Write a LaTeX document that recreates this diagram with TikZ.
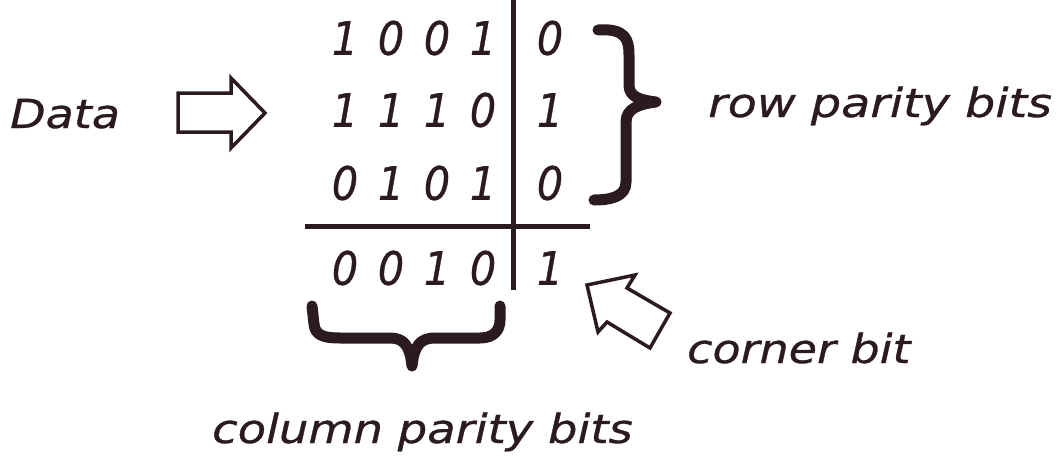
\documentclass[tikz,border=0pt]{standalone}
\usepackage{fontspec}
\setmainfont{DejaVu Sans}
\newfontfamily\inkfont{DejaVu Sans}[FakeBold=0.7]
\definecolor{ink}{HTML}{2B1B20}
\tikzset{
  digit/.style={text=ink, inner sep=0pt, font=\inkfont\fontsize{46}{46}\selectfont\itshape},
  lbl/.style={text=ink, inner sep=0pt, anchor=base west, font=\inkfont\fontsize{40}{40}\selectfont\itshape},
  brace/.style={draw=ink, line width=11pt, line cap=round, line join=round},
  rule/.style={draw=ink, line width=5pt},
  hollow/.style={draw=ink, fill=white, line width=3.5pt, line join=miter}
}
\begin{document}
\begin{tikzpicture}[x=1pt,y=-1pt]
\useasboundingbox (0,0) rectangle (1062,458);
% grid lines
\coordinate (vt) at (513,0);
\coordinate (vb) at (513,290);
\coordinate (hl) at (305,226);
\coordinate (hr) at (590,226);
\draw[rule] (vt) -- (vb);
\draw[rule] (hl) -- (hr);
% digits
\foreach \r/\y/\a/\b/\c/\d/\p in {1/38/1/0/0/1/0, 2/110/1/1/1/0/1, 3/183/0/1/0/1/0, 4/268/0/0/1/0/1}{
  \node[digit] (d\r a) at (345,\y) {\scalebox{0.9}[1]{\a}};
  \node[digit] (d\r b) at (391,\y) {\scalebox{0.9}[1]{\b}};
  \node[digit] (d\r c) at (437,\y) {\scalebox{0.9}[1]{\c}};
  \node[digit] (d\r d) at (483,\y) {\scalebox{0.9}[1]{\d}};
  \node[digit] (d\r p) at (550,\y) {\scalebox{0.9}[1]{\p}};
}
% labels
\node[lbl] (data) at (10,128) {\scalebox{1.15}[1]{Data}};
\node[lbl] (rowp) at (708,117) {\scalebox{1.19}[1]{row parity bits}};
\node[lbl] (corner) at (687,363) {\scalebox{1.15}[1]{corner bit}};
\node[lbl] (colp) at (212,443) {\scalebox{1.16}[1]{column parity bits}};
% braces
\draw[brace] (598,30) .. controls (626,28) and (629,40) .. (629,55) -- (629,85)
  .. controls (629,97) and (640,100) .. (656,102)
  .. controls (640,104) and (626,108) .. (626,122) -- (626,182)
  .. controls (626,196) and (612,200) .. (594,200);
\draw[brace] (312,306) -- (314,324) .. controls (315,336) and (325,338) .. (340,338) -- (390,338)
  .. controls (404,338) and (410,346) .. (412,366)
  .. controls (414,346) and (420,338) .. (435,338) -- (480,338)
  .. controls (494,338) and (500,330) .. (500,320) -- (500,306);
% hollow arrows
\draw[hollow] (178,93) -- (231,93) -- (231,78) -- (265,113) -- (231,148) -- (231,132) -- (178,132) -- cycle;
\draw[hollow] (587,285) -- (635,275) -- (627,288) -- (670,313) -- (650,348) -- (607,322) -- (598,332) -- cycle;
\end{tikzpicture}
\end{document}
